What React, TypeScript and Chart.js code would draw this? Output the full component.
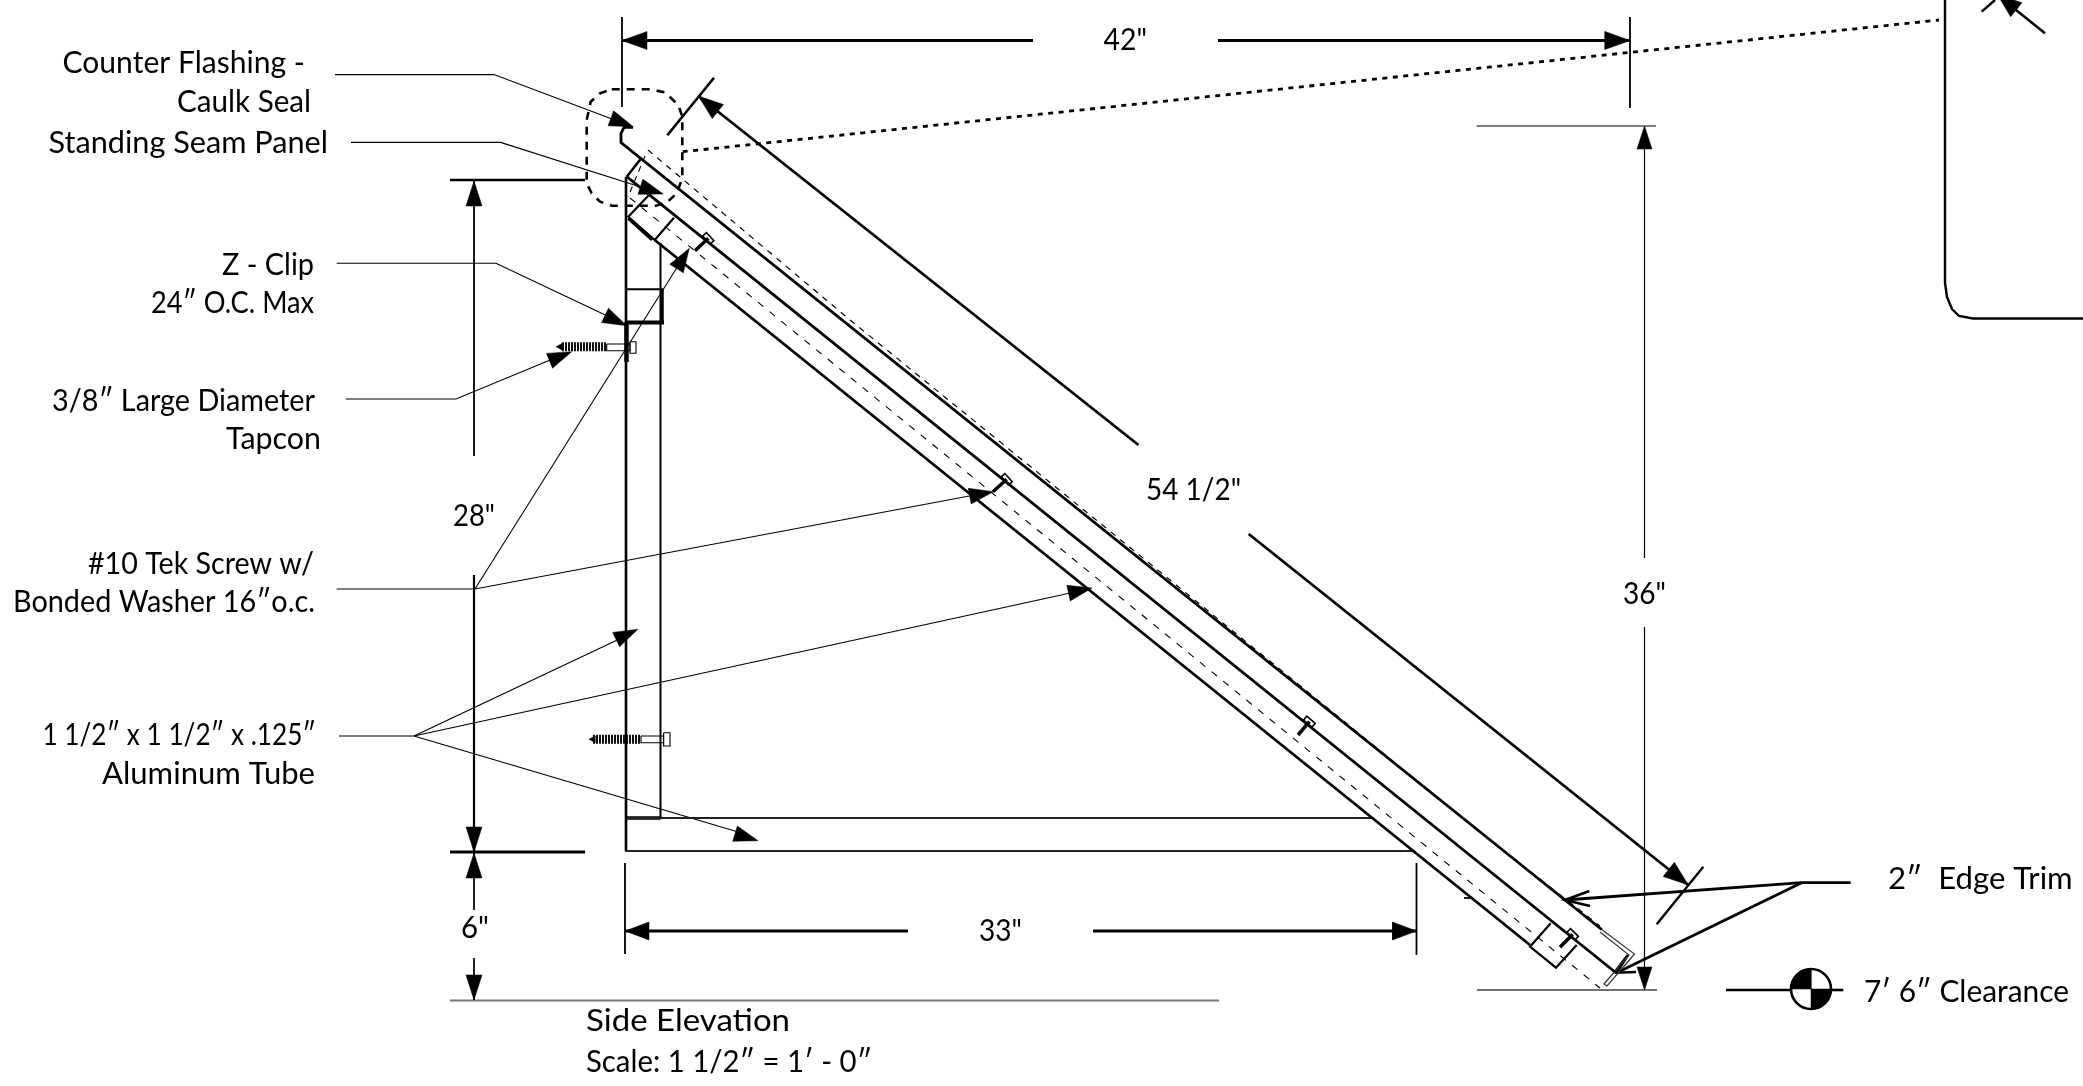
import React, { useEffect, useRef } from "react";
import { Chart, registerables } from "chart.js";

Chart.register(...registerables);

type P = [number, number];

// Drawing extents
const drawingWidth = 2083;
const drawingHeight = 1086;

// Roof assembly
const flashing: P[] = [[633, 127.3], [624, 127.3], [621, 133.3], [621, 142.7], [1601.7, 929.5]];
const chamfer: P[] = [[640.7, 159], [626.7, 176.7]];
const railTop: P[] = [[626.7, 176.7], [1615, 972]];
const railBottom: P[] = [[654.7, 240], [1530, 945]];
const centerDash: P[] = [[630, 198], [1600, 988]];
const coverDash: P[] = [[648, 150], [850, 320], [1490, 840], [1600, 926]];
const apexDash: P[] = [[645, 156], [628, 197]];
const topBlock: P[] = [[648.3, 195.7], [628.3, 216.7], [654.7, 240], [674, 217.7]];
const topBlockEdge: P[] = [[628.3, 218.5], [652, 240]];
const bottomBlock: P[] = [[1550.7, 923.3], [1530, 946.7], [1556, 967.7], [1576.7, 945]];

// Frame tubes
const columnLeft: P[] = [[626, 176.7], [626, 851]];
const columnRight: P[] = [[660.5, 243], [660.5, 818]];
const columnHeavy: P[] = [[626.5, 322], [626.5, 362]];
const baseTop: P[] = [[625, 818], [1374, 818]];
const baseBottom: P[] = [[625, 851], [1415, 851]];
const baseFoot: P[] = [[625, 818], [660.5, 818]];
const clipTop: P[] = [[626.7, 289.3], [663, 289.3]];
const clipRight: P[] = [[662, 289], [662, 323]];
const clipBottom: P[] = [[626.7, 322.5], [664, 322.5]];
const stub: P[] = [[1464, 898], [1473, 898]];

// Edge trim
const trimOuter: P[] = [[1601, 929], [1634.5, 954], [1607, 986], [1604, 984], [1629, 955], [1600, 932]];
const trimDrip: P[] = [[1615, 971.7], [1627, 956]];

// Dimension lines
const dim42Left: P[] = [[622, 17], [622, 107]];
const dim42Right: P[] = [[1630, 17], [1630, 108]];
const dim42A: P[] = [[622, 40.5], [1033, 40.5]];
const dim42B: P[] = [[1218, 40.5], [1630, 40.5]];
const dim36Top: P[] = [[1476.5, 126], [1656, 126]];
const dim36Bottom: P[] = [[1477, 990], [1657, 990]];
const dim36A: P[] = [[1644.5, 126], [1644.5, 558]];
const dim36B: P[] = [[1644.5, 627], [1644.5, 990]];
const dim28Top: P[] = [[450, 180], [585, 180]];
const dim28Bottom: P[] = [[450, 852], [585, 852]];
const dim28A: P[] = [[474, 180], [474, 456]];
const dim28B: P[] = [[474, 575], [474, 852]];
const dim6A: P[] = [[474, 852], [474, 910]];
const dim6B: P[] = [[474, 958], [474, 1000]];
const dim6Ref: P[] = [[450, 1000.5], [1219, 1000.5]];
const dim33Left: P[] = [[625, 863], [625, 954]];
const dim33Right: P[] = [[1416.5, 863], [1416.5, 955]];
const dim33A: P[] = [[625, 931], [908, 931]];
const dim33B: P[] = [[1093, 931], [1416.5, 931]];
const dim54TickA: P[] = [[667.3, 135.3], [714, 77.7]];
const dim54TickB: P[] = [[1703.3, 866.7], [1656.7, 924.3]];
const dim54A: P[] = [[698.3, 96], [1138.5, 445]];
const dim54B: P[] = [[1248.7, 534], [1688.3, 885]];

// Leaders
const leadFlashing: P[] = [[335, 74.6], [494, 74.6], [620, 122]];
const leadSeam: P[] = [[351, 142.4], [500.6, 142.4], [650, 190]];
const leadClip: P[] = [[336.7, 263.3], [496, 263.3], [618, 321]];
const leadTapcon: P[] = [[345.7, 399], [456, 399], [555, 358]];
const leadTek: P[] = [[336.7, 589], [475, 589], [980, 494]];
const leadTekUp: P[] = [[475, 589], [683, 258]];
const leadTube: P[] = [[339, 736], [414, 736]];
const leadTube1: P[] = [[414, 736], [630, 634]];
const leadTube2: P[] = [[414, 736], [1075, 592]];
const leadTube3: P[] = [[414, 736], [745, 834]];
const leadTrim: P[] = [[1850.7, 882.7], [1801.7, 882.7], [1565, 900]];
const leadTrim2: P[] = [[1801.7, 882.7], [1616.7, 972.7]];
const trimBarb1: P[] = [[1589.3, 891], [1565, 900], [1590, 906]];
const trimBarb2: P[] = [[1636, 972], [1616.7, 972.7], [1628, 955]];
const clearanceA: P[] = [[1726, 990], [1791.7, 990]];
const clearanceB: P[] = [[1830, 990], [1843.3, 990]];

// Detail callout
const detailOutline: P[] = [[611.7, 89.3], [650, 89.3], [665, 92.3], [678.3, 105], [682.3, 116.7], [682.3, 178.3], [676.7, 193.3], [666.7, 202.7], [656, 205.7], [611.7, 205.7], [600, 201.7], [591.7, 193.3], [586.7, 183.3], [586.7, 120], [590.7, 101.7], [600, 93.3], [611.7, 89.3]];
const detailLeader: P[] = [[682.7, 151.7], [1939, 20]];
const detailBox: P[] = [[1945, 0], [1945, 283], [1947, 297], [1952, 309], [1959, 316], [1973, 318.5], [2083, 318.5]];
const boxTick: P[] = [[1981.7, 11.7], [1995, 0]];
const boxArrow: P[] = [[2016, 10], [2045, 33.3]];

// Lag screws: thread, shank and head rectangles
const thread1: P[] = [[562, 346.7], [606.7, 346.7]];
const thread2: P[] = [[593, 739.3], [641, 739.3]];
const threadTip1: P[] = [[556, 346.7], [562, 343.5], [562, 350]];
const threadTip2: P[] = [[589, 739.3], [595, 736], [595, 742.6]];
const shank1: P[] = [[606.7, 344], [630, 344], [630, 350.7], [606.7, 350.7]];
const shank2: P[] = [[641, 736], [663.6, 736], [663.6, 742.7], [641, 742.7]];
const head1: P[] = [[630, 341.7], [636, 341.7], [636, 353.3], [630, 353.3], [630, 341.7]];
const head2: P[] = [[663.6, 732.7], [670, 732.7], [670, 746], [663.6, 746], [663.6, 732.7]];

// Tek screws: head centre then shaft end
const tekScrews: [P, P][] = [
  [[708.3, 238.3], [695, 250.7]],
  [[1006.7, 479.3], [993, 491.7]],
  [[1309.4, 721.7], [1298, 735]],
  [[1572.7, 934.3], [1560, 947.3]],
];

// Arrowheads: tip, then a point behind it, then length and width
const arrowHeads: [number, number, number, number, number, number][] = [
  [622, 40.5, 700, 40.5, 25, 18],
  [1630, 40.5, 1500, 40.5, 25, 18],
  [1644.5, 126, 1644.5, 300, 23, 15],
  [1644.5, 990, 1644.5, 800, 23, 15],
  [474, 181, 474, 300, 25, 16],
  [474, 852, 474, 700, 25, 16],
  [474, 853, 474, 910, 25, 16],
  [474, 1000, 474, 958, 25, 16],
  [625, 931, 800, 931, 24, 18],
  [1416.5, 931, 1200, 931, 24, 18],
  [698.3, 96, 1138.5, 445, 25, 18],
  [1688.3, 885, 1248.7, 534, 25, 18],
  [633.3, 126.7, 494, 74.6, 24, 16],
  [663.3, 194, 500.6, 142.4, 24, 16],
  [626.7, 325.7, 496, 263.3, 24, 16],
  [571.7, 351.7, 456, 399, 24, 16],
  [993.3, 491.7, 475, 589, 24, 16],
  [689.3, 248.3, 475, 589, 24, 16],
  [637.8, 629.3, 414, 736, 24, 16],
  [1092, 588, 414, 736, 24, 16],
  [758, 840.7, 414, 736, 24, 16],
  [1997, -6, 2045, 33.3, 25, 18],
];

// Clearance symbol
const clearanceCenter: P = [1811, 989];
const clearanceRadius = 20;
const clearanceQuadrants = [180, 0];

// Text
const labelTexts = [
  "Counter Flashing -", "Caulk Seal", "Standing Seam Panel", "Z - Clip", "24″ O.C. Max",
  "3/8″ Large Diameter", "Tapcon", "28\"", "#10 Tek Screw w/", "Bonded Washer 16″o.c.",
  "1 1/2″ x 1 1/2″ x .125″", "Aluminum Tube", "6\"", "33\"", "42\"", "54 1/2\"", "36\"",
  "2″  Edge Trim", "7′ 6″ Clearance", "Side Elevation", "Scale: 1 1/2″ = 1′ - 0″",
];
const labelStart = [62.5, 177, 48.5, 222, 151, 52, 226, 453, 88, 13, 42.5, 102, 461, 979, 1103.6, 1146, 1623, 1888, 1864, 586, 586];
const labelEnd = [305, 311, 328, 314, 314, 315, 321, 495, 314, 315, 316, 315, 489, 1022, 1147, 1241, 1666, 2072.7, 2069, 790, 872];
const labelBase = [72.7, 111.7, 153, 274.8, 313, 410.6, 448.5, 526, 574, 612, 745, 784, 938, 940.7, 50, 499.5, 604, 889, 1001.7, 1030.7, 1071.7];

const BLACK = "#000000";

function toXY(points: P[]) {
  return points.map(([x, y]) => ({ x, y }));
}

function stroke(points: P[], width: number, color = BLACK, dash: number[] = []) {
  return {
    data: toXY(points),
    showLine: true,
    borderColor: color,
    borderWidth: width,
    borderDash: dash,
    pointRadius: 0,
    tension: 0,
    fill: false,
    borderCapStyle: "butt" as const,
    borderJoinStyle: "miter" as const,
  };
}

function solid(points: P[]) {
  return {
    data: toXY([...points, points[0]]),
    showLine: true,
    borderColor: BLACK,
    backgroundColor: BLACK,
    borderWidth: 0.5,
    pointRadius: 0,
    tension: 0,
    fill: "shape",
  };
}

function arrowPolygon([tx, ty, fx, fy, len, wid]: number[]): P[] {
  const d = Math.hypot(fx - tx, fy - ty);
  const ux = (fx - tx) / d;
  const uy = (fy - ty) / d;
  const bx = tx + ux * len;
  const by = ty + uy * len;
  return [
    [tx, ty],
    [bx - (uy * wid) / 2, by + (ux * wid) / 2],
    [bx + (uy * wid) / 2, by - (ux * wid) / 2],
  ];
}

function quadrant(startDeg: number): P[] {
  const pts: P[] = [clearanceCenter];
  for (let a = startDeg; a <= startDeg + 90; a += 15) {
    const r = (a * Math.PI) / 180;
    pts.push([clearanceCenter[0] + clearanceRadius * Math.cos(r), clearanceCenter[1] + clearanceRadius * Math.sin(r)]);
  }
  return pts;
}

function tekHead(head: P, end: P): P[] {
  const d = Math.hypot(head[0] - end[0], head[1] - end[1]);
  const ux = (head[0] - end[0]) / d;
  const uy = (head[1] - end[1]) / d;
  const a = 2.5;
  const b = 5.5;
  return [
    [head[0] - ux * a - uy * b, head[1] - uy * a + ux * b],
    [head[0] + ux * a - uy * b, head[1] + uy * a + ux * b],
    [head[0] + ux * a + uy * b, head[1] + uy * a - ux * b],
    [head[0] - ux * a + uy * b, head[1] - uy * a - ux * b],
    [head[0] - ux * a - uy * b, head[1] - uy * a + ux * b],
  ];
}

const textPlugin = {
  id: "drawingText",
  afterDatasetsDraw(chart: any) {
    const { ctx, scales } = chart;
    ctx.save();
    ctx.fillStyle = "#000000";
    ctx.textBaseline = "alphabetic";
    ctx.textAlign = "left";
    ctx.font = '31px "Lato"';
    labelTexts.forEach((t, i) => {
      const x0 = scales.x.getPixelForValue(labelStart[i]);
      const x1 = scales.x.getPixelForValue(labelEnd[i]);
      const y = scales.y.getPixelForValue(labelBase[i]);
      const w = ctx.measureText(t).width;
      ctx.save();
      ctx.translate(x0, y);
      ctx.scale((x1 - x0) / w, 1);
      ctx.fillText(t, 0, 0);
      ctx.restore();
    });
    ctx.restore();
  },
};

export default function App() {
  const ref = useRef<HTMLCanvasElement>(null);
  useEffect(() => {
    document.body.style.margin = "0";
    const datasets: any[] = [
      stroke(flashing, 2.8),
      stroke(chamfer, 2.4),
      stroke(railTop, 2.8),
      stroke(railBottom, 2.8),
      stroke(centerDash, 1.1, BLACK, [7, 8]),
      stroke(coverDash, 1.2, BLACK, [6, 6]),
      stroke(apexDash, 1.1, BLACK, [6, 5]),
      stroke(topBlock, 2.2),
      stroke(topBlockEdge, 3),
      stroke(bottomBlock, 2.2),
      stroke(columnLeft, 2.6),
      stroke(columnRight, 2),
      stroke(columnHeavy, 4.5),
      stroke(baseTop, 2.2, "#222222"),
      stroke(baseBottom, 2.2, "#222222"),
      stroke(baseFoot, 3.5),
      stroke(clipTop, 2),
      stroke(clipRight, 3.5),
      stroke(clipBottom, 4),
      stroke(stub, 1.8),
      stroke(trimOuter, 1.2, "#333333"),
      stroke(trimDrip, 2.6),
      stroke(dim42Left, 1.8),
      stroke(dim42Right, 1.8),
      stroke(dim42A, 2.8),
      stroke(dim42B, 2.8),
      stroke(dim36Top, 1.4, "#555555"),
      stroke(dim36Bottom, 1.6, "#444444"),
      stroke(dim36A, 1.2),
      stroke(dim36B, 1.2),
      stroke(dim28Top, 2.6),
      stroke(dim28Bottom, 2.8),
      stroke(dim28A, 1.8),
      stroke(dim28B, 2.2),
      stroke(dim6A, 1),
      stroke(dim6B, 1),
      stroke(dim6Ref, 1.8, "#777777"),
      stroke(dim33Left, 1.8),
      stroke(dim33Right, 1.8),
      stroke(dim33A, 2.8),
      stroke(dim33B, 2.8),
      stroke(dim54TickA, 2.6),
      stroke(dim54TickB, 2.4),
      stroke(dim54A, 2.8),
      stroke(dim54B, 2.8),
      stroke(leadFlashing, 1.1),
      stroke(leadSeam, 1.1),
      stroke(leadClip, 1.1),
      stroke(leadTapcon, 1.1),
      stroke(leadTek, 1.1),
      stroke(leadTekUp, 1.1),
      stroke(leadTube, 1.2),
      stroke(leadTube1, 1.1),
      stroke(leadTube2, 1.1),
      stroke(leadTube3, 1.1),
      stroke(leadTrim, 2.8),
      stroke(leadTrim2, 2.8),
      stroke(trimBarb1, 2.6),
      stroke(trimBarb2, 2.6),
      stroke(clearanceA, 2.6),
      stroke(clearanceB, 2.6),
      stroke(detailOutline, 2.6, BLACK, [8, 7]),
      stroke(detailLeader, 2.8, BLACK, [5, 5.5]),
      stroke(detailBox, 2.4),
      stroke(boxTick, 2.4),
      stroke(boxArrow, 2.6),
      stroke(thread1, 9, "#111111", [2, 1]),
      stroke(thread2, 9, "#111111", [2, 1]),
      solid(threadTip1),
      solid(threadTip2),
      stroke([...shank1, shank1[0]], 1.1),
      stroke([...shank2, shank2[0]], 1.1),
      stroke(head1, 1.1),
      stroke(head2, 1.1),
    ];
    tekScrews.forEach(([head, end]) => {
      datasets.push(stroke([head, end], 3.5));
      datasets.push(stroke(tekHead(head, end), 1.6));
    });
    arrowHeads.forEach((a) => datasets.push(solid(arrowPolygon(a))));
    clearanceQuadrants.forEach((q) => datasets.push(solid(quadrant(q))));
    datasets.push({
      data: toXY([clearanceCenter]),
      pointRadius: clearanceRadius,
      pointBorderWidth: 2.6,
      pointBorderColor: BLACK,
      pointBackgroundColor: "rgba(255,255,255,0)",
      showLine: false,
    });
    const chart = new Chart(ref.current as HTMLCanvasElement, {
      type: "scatter",
      data: { datasets },
      options: {
        animation: false,
        responsive: false,
        devicePixelRatio: 1,
        layout: { padding: 0, autoPadding: false },
        plugins: { legend: { display: false }, tooltip: { enabled: false }, title: { display: false } },
        scales: {
          x: { type: "linear", display: false, min: 0, max: drawingWidth },
          y: { type: "linear", display: false, min: 0, max: drawingHeight, reverse: true },
        },
      },
      plugins: [textPlugin],
    } as any);
    return () => chart.destroy();
  }, []);
  return (
    <div style={{ width: drawingWidth, height: drawingHeight, background: "#ffffff" }}>
      <canvas ref={ref} width={drawingWidth} height={drawingHeight} style={{ display: "block" }} />
    </div>
  );
}
